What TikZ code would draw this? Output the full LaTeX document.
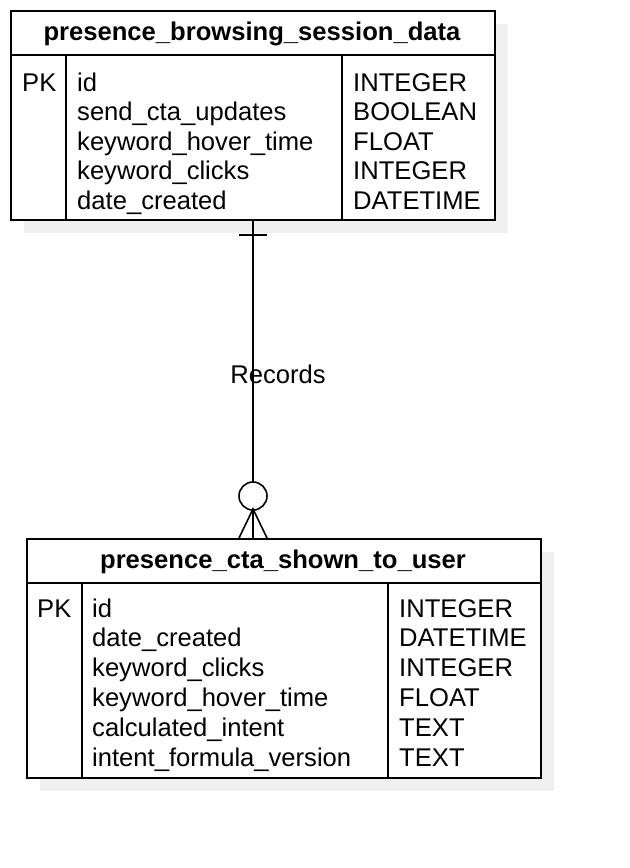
\documentclass[tikz,border=0pt]{standalone}
\usepackage{fontspec}
\setmainfont{Liberation Sans}
\definecolor{shadowgray}{RGB}{240,240,240}
\begin{document}
\begin{tikzpicture}[x=1bp,y=-1bp,
  tablebox/.style={draw=black,line width=2bp,fill=white,rectangle,inner sep=0pt,anchor=north west},
  shadowbox/.style={fill=shadowgray,draw=none,rectangle,inner sep=0pt,anchor=north west},
  txt/.style={inner sep=0pt,anchor=base west,font=\fontsize{25.7}{29.7}\selectfont},
  hdr/.style={inner sep=0pt,anchor=base,font=\fontsize{25.7}{29.7}\selectfont\bfseries},
  divider/.style={line width=2bp},
  conn/.style={line width=1.6bp}]
\useasboundingbox (0,0) rectangle (630,868);
\fill[white] (0,0) rectangle (630,868);
% table 1
\node[shadowbox,minimum width=484bp,minimum height=209bp] (s1) at (24,24) {};
\node[tablebox,minimum width=484bp,minimum height=209bp] (t1) at (10,10) {};
\draw[divider] (10,55) -- (494,55);
\draw[divider] (66,55) -- (66,219);
\draw[divider] (342,55) -- (342,219);
\node[hdr] (h1) at (252,40) {presence\_browsing\_session\_data};
\node[txt] (pk1) at (22,91) {PK};
\foreach \f/\t [count=\i] in {id/INTEGER, send\_cta\_updates/BOOLEAN, keyword\_hover\_time/FLOAT, keyword\_clicks/INTEGER, date\_created/DATETIME}{
  \node[txt] (f1-\i) at (77,{91+29.6*(\i-1)}) {\f};
  \node[txt] (y1-\i) at (353,{91+29.6*(\i-1)}) {\t};
}
% table 2
\node[shadowbox,minimum width=514bp,minimum height=239bp] (s2) at (40,552) {};
\node[tablebox,minimum width=514bp,minimum height=239bp] (t2) at (26,538) {};
\draw[divider] (26,583) -- (540,583);
\draw[divider] (82,583) -- (82,777);
\draw[divider] (388,583) -- (388,777);
\node[hdr] (h2) at (283,568) {presence\_cta\_shown\_to\_user};
\node[txt] (pk2) at (37,617) {PK};
\foreach \f/\t [count=\i] in {id/INTEGER, date\_created/DATETIME, keyword\_clicks/INTEGER, keyword\_hover\_time/FLOAT, calculated\_intent/TEXT, intent\_formula\_version/TEXT}{
  \node[txt] (f2-\i) at (92,{617+29.8*(\i-1)}) {\f};
  \node[txt] (y2-\i) at (399,{617+29.8*(\i-1)}) {\t};
}
% connector
\coordinate (a) at (t1.south);
\coordinate (b) at (t1.south |- t2.north);
\draw[conn] (a) -- (b);
\draw[conn] ([xshift=-14bp,yshift=-14bp]a) -- ([xshift=14bp,yshift=-14bp]a);
\draw[conn,fill=white] ([yshift=42bp]b) circle (14bp);
\draw[conn] ([xshift=-14bp]b) -- ([yshift=29bp]b) -- ([xshift=14bp]b);
\node[inner sep=0pt,anchor=base,font=\fontsize{25.7}{29.7}\selectfont] (lbl) at (278,383) {Records};
\end{tikzpicture}
\end{document}
